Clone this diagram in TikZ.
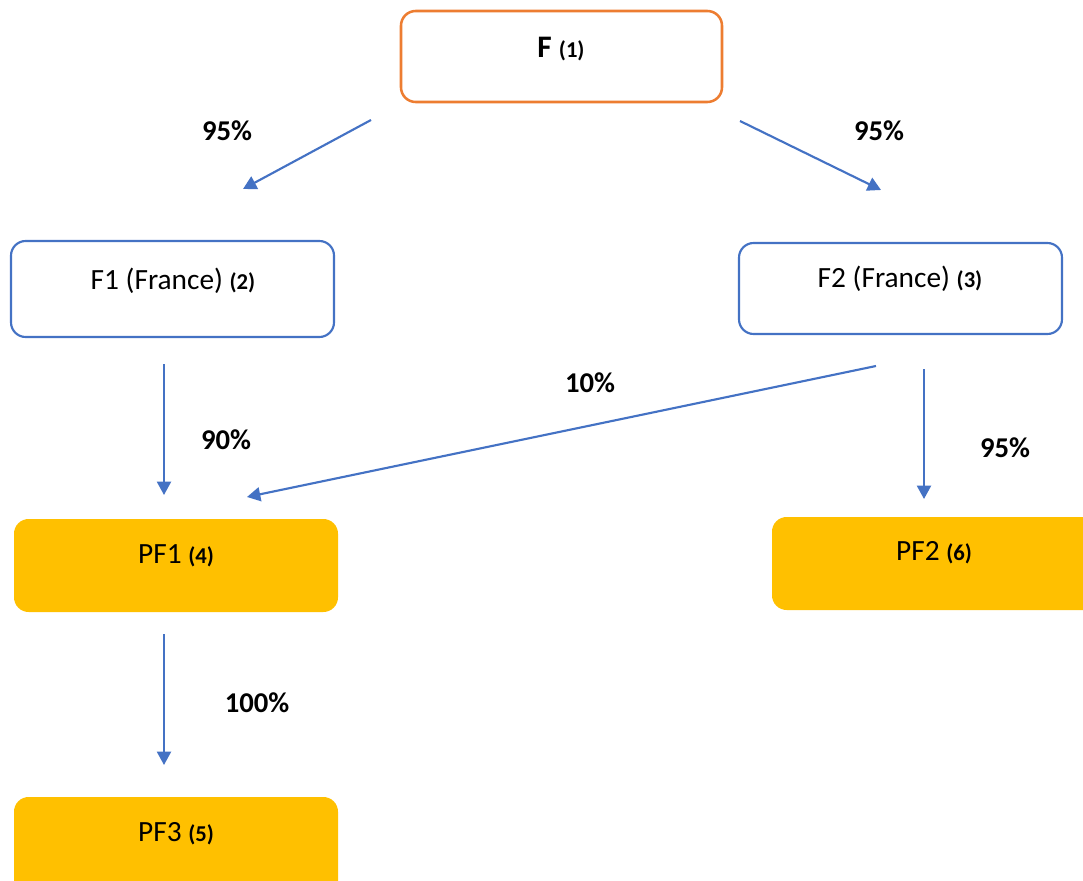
\documentclass[tikz,border=0pt]{standalone}
\usepackage{fontspec}
\setmainfont{Carlito}
\usetikzlibrary{arrows.meta,calc}
\definecolor{obord}{HTML}{ED7D31}
\definecolor{bbord}{HTML}{4472C4}
\definecolor{gold}{HTML}{FFC000}
\newcommand\smnum[1]{{\fontsize{17}{20}\selectfont\bfseries #1}}
\begin{document}
\begin{tikzpicture}[x=0.75pt,y=-0.75pt,
  base/.style={rectangle,rounded corners=11pt,inner sep=0pt},
  obox/.style={base,draw=obord,line width=1.9pt,fill=white},
  bbox/.style={base,draw=bbord,line width=1.6pt,fill=white},
  gbox/.style={base,fill=gold},
  txt/.style={font=\fontsize{22}{26}\selectfont,inner sep=0pt},
  pct/.style={font=\fontsize{21.5}{26}\selectfont\bfseries,inner sep=0pt},
  arr/.style={draw=bbord,line width=1.6pt,-{Triangle[length=10pt,width=10.5pt]}}]
\useasboundingbox (0,0) rectangle (1083,881);
\clip (0,0) rectangle (1083,881);
% boxes
\node[obox,minimum width=321*0.75pt,minimum height=91*0.75pt] (f) at (561.5,56.5) {};
\node[bbox,minimum width=323*0.75pt,minimum height=96*0.75pt] (f1) at (172.5,289) {};
\node[bbox,minimum width=323*0.75pt,minimum height=91*0.75pt] (f2) at (900.5,288.5) {};
\node[gbox,minimum width=324*0.75pt,minimum height=93*0.75pt] (pf1) at (176,565.5) {};
\node[gbox,minimum width=338*0.75pt,minimum height=93*0.75pt] (pf2) at (941,563.5) {};
\node[gbox,minimum width=324*0.75pt,minimum height=113*0.75pt] (pf3) at (176,853.5) {};
% texts
\node[txt] (tf) at (561,49) {\fontsize{23.5}{28}\selectfont\bfseries F \smnum{(1)}};
\node[txt] (tf1) at (173,281) {F1 (France) \smnum{(2)}};
\node[txt] (tf2) at (900,279) {F2 (France) \smnum{(3)}};
\node[txt] (tpf1) at (176,556) {PF1 \smnum{(4)}};
\node[txt] (tpf2) at (934,553) {PF2 \smnum{(6)}};
\node[txt] (tpf3) at (176,834) {PF3 \smnum{(5)}};
% arrow endpoints
\coordinate (a1s) at (371,120); \coordinate (a1e) at (243,189);
\coordinate (a2s) at (740,121); \coordinate (a2e) at (881,190);
\coordinate (a3s) at (164,364); \coordinate (a3e) at (164,495);
\coordinate (a4s) at (876,366); \coordinate (a4e) at (247,497);
\coordinate (a5s) at (924,369); \coordinate (a5e) at (924,499);
\coordinate (a6s) at (164,634); \coordinate (a6e) at (164,765);
\draw[arr] (a1s) -- (a1e);
\draw[arr] (a2s) -- (a2e);
\draw[arr] (a3s) -- (a3e);
\draw[arr] (a4s) -- (a4e);
\draw[arr] (a5s) -- (a5e);
\draw[arr] (a6s) -- (a6e);
% labels
\node[pct] (l1) at (227,131) {95\%};
\node[pct] (l2) at (879,131) {95\%};
\node[pct] (l3) at (226,440) {90\%};
\node[pct] (l4) at (590,383) {10\%};
\node[pct] (l5) at (1005,448) {95\%};
\node[pct] (l6) at (257,703) {100\%};
\end{tikzpicture}
\end{document}
